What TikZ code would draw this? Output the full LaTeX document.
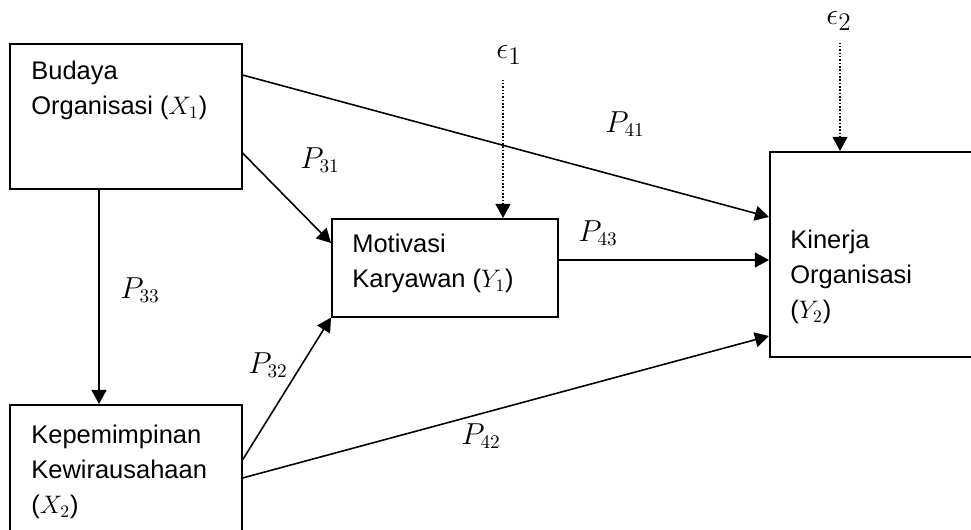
\documentclass[tikz,border=0pt]{standalone}
\usepackage{amsmath}
\usepackage{fontspec}
\setmainfont{Liberation Sans}
\usetikzlibrary{positioning,arrows.meta,calc}

\tikzset{
  varbox/.style={draw, line width=0.9pt, inner sep=0pt, anchor=north west},
  boxtext/.style={anchor=north west, inner sep=0pt, align=left,
    font=\fontsize{14.5}{19.9}\selectfont},
  coef/.style={font=\fontsize{16}{18}\selectfont},
  errlabel/.style={inner sep=1pt, font=\fontsize{19}{21}\selectfont},
  path arrow/.style={line width=0.9pt, -{Triangle[length=8pt,width=8.5pt]}},
  err arrow/.style={line width=0.9pt, densely dotted, -{Triangle[length=8pt,width=8.5pt]}},
}

\begin{document}
\begin{tikzpicture}[x=0.02cm, y=-0.02cm]
\clip (0,0) rectangle (971,530);
% variables
\node[varbox, minimum width=4.64cm, minimum height=2.9cm] (x1) at (9,43) {};
\node[varbox, minimum width=4.64cm, minimum height=3.2cm] (x2) at (9,404) {};
\node[varbox, minimum width=4.52cm, minimum height=1.96cm] (y1) at (331,218) {};
\node[varbox, minimum width=5cm, minimum height=4.1cm] (y2) at (769,151) {};
\node[boxtext] (x1t) at (31,61) {Budaya\\Organisasi ($X_1$)};
\node[boxtext] (x2t) at (31,425) {Kepemimpinan\\Kewirausahaan\\($X_2$)};
\node[boxtext] (y1t) at (352,234) {Motivasi\\Karyawan ($Y_1$)};
\node[boxtext] (y2t) at (790,230) {Kinerja\\Organisasi\\($Y_2$)};

% paths
\draw[path arrow] ($(x1.north east)+(0,32)$) -- ($(y2.north west)+(0,66)$);
\draw[path arrow] ($(x1.north east)+(0,110)$) -- ($(y1.north west)+(0,25)$);
\draw[path arrow] ($(x1.south west)+(90,0)$) -- ($(x2.north west)+(90,0)$);
\draw[path arrow] ($(y1.north east)+(0,42)$) -- ($(y2.north west)+(0,109)$);
\draw[path arrow] ($(x2.north east)+(0,56)$) -- (y1.south west);
\draw[path arrow] ($(x2.north east)+(0,74)$) -- ($(y2.north west)+(0,185)$);

% errors
\node[errlabel] (e1) at (509,55) {$\epsilon_1$};
\node[errlabel] (e2) at (839,21) {$\epsilon_2$};
\draw[err arrow] ($(e1.south)+(-6,13)$) coordinate (d1) -- (d1 |- y1.north);
\draw[err arrow] ($(e2.south)+(1,10)$) coordinate (d2) -- (d2 |- y2.north);

% coefficients
\node[coef] (p41) at (625,124) {$P_{41}$};
\node[coef] (p31) at (320,160) {$P_{31}$};
\node[coef] (p43) at (598,233) {$P_{43}$};
\node[coef] (p33) at (140,290) {$P_{33}$};
\node[coef] (p32) at (268,365) {$P_{32}$};
\node[coef] (p42) at (481,436) {$P_{42}$};
\end{tikzpicture}
\end{document}
